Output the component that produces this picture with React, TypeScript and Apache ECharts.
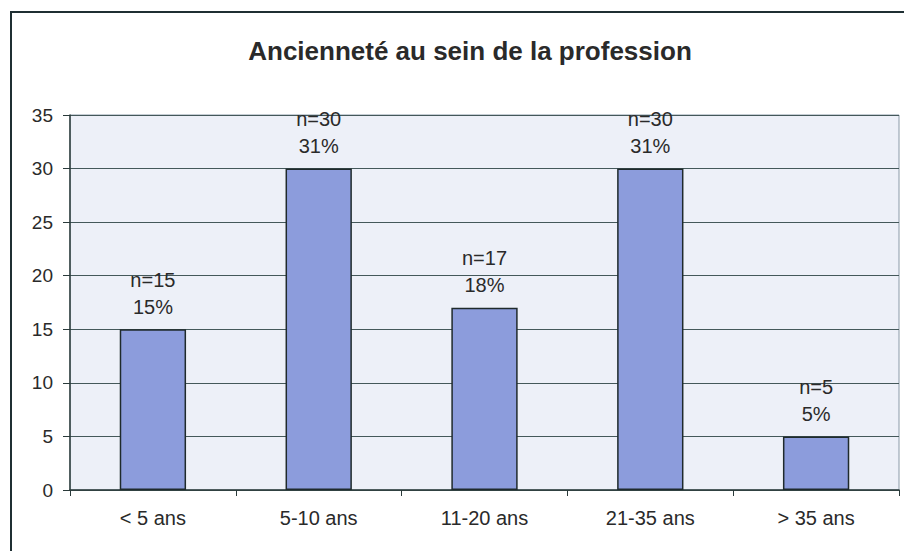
import React, { useEffect, useRef } from "react";
import * as echarts from "echarts";

const categories = ["< 5 ans", "5-10 ans", "11-20 ans", "21-35 ans", "> 35 ans"];
const counts = [15, 30, 17, 30, 5];
const percents = ["15%", "31%", "18%", "31%", "5%"];
const yTicks = [0, 5, 10, 15, 20, 25, 30, 35];

export default function App() {
  const ref = useRef<HTMLDivElement>(null);
  useEffect(() => {
    document.body.style.margin = "0";
    const chart = echarts.init(ref.current!, null, { renderer: "svg" });
    chart.setOption({
      animation: false,
      backgroundColor: "#ffffff",
      textStyle: { fontFamily: "Liberation Sans, Arial, sans-serif" },
      title: {
        text: "Ancienneté au sein de la profession",
        left: 465,
        top: 33,
        textAlign: "center",
        textStyle: { fontSize: 26, fontWeight: "bold", color: "#2a2a2a", fontFamily: "Liberation Sans, Arial, sans-serif" },
      },
      graphic: [
        {
          type: "rect",
          shape: { x: 11, y: 12, width: 920, height: 600 },
          style: { fill: "none", stroke: "#1f2f33", lineWidth: 2 },
          silent: true,
        },
      ],
      grid: {
        left: 70,
        right: 5,
        top: 115,
        bottom: 61,
        show: true,
        backgroundColor: "#edf0f8",
        borderColor: "#8a9aa8",
        borderWidth: 1,
      },
      xAxis: {
        type: "category",
        data: categories,
        axisLine: { lineStyle: { color: "#2a3a3a", width: 1.5 } },
        axisTick: { show: true, length: 6, lineStyle: { color: "#2a3a3a" } },
        axisLabel: { color: "#2a2a2a", fontSize: 20, margin: 18 },
      },
      yAxis: {
        type: "value",
        min: yTicks[0],
        max: yTicks[yTicks.length - 1],
        interval: 5,
        axisLine: { show: true, lineStyle: { color: "#2a3a3a", width: 1.5 } },
        axisTick: { show: true, length: 7, lineStyle: { color: "#2a3a3a" } },
        axisLabel: { color: "#2a2a2a", fontSize: 19, margin: 17 },
        splitLine: { lineStyle: { color: "#44585a", width: 1 } },
      },
      series: [
        {
          type: "bar",
          data: counts,
          barCategoryGap: "60%",
          itemStyle: { color: "#8c9cdc", borderColor: "#1f2a2c", borderWidth: 1.5 },
          label: {
            show: true,
            position: "top",
            distance: 9,
            color: "#2a2a2a",
            fontSize: 20,
            lineHeight: 27,
            formatter: (p: any) => `n=${counts[p.dataIndex]}\n${percents[p.dataIndex]}`,
          },
        },
      ],
    });
    return () => chart.dispose();
  }, []);
  return <div ref={ref} style={{ width: 904, height: 551 }} />;
}
